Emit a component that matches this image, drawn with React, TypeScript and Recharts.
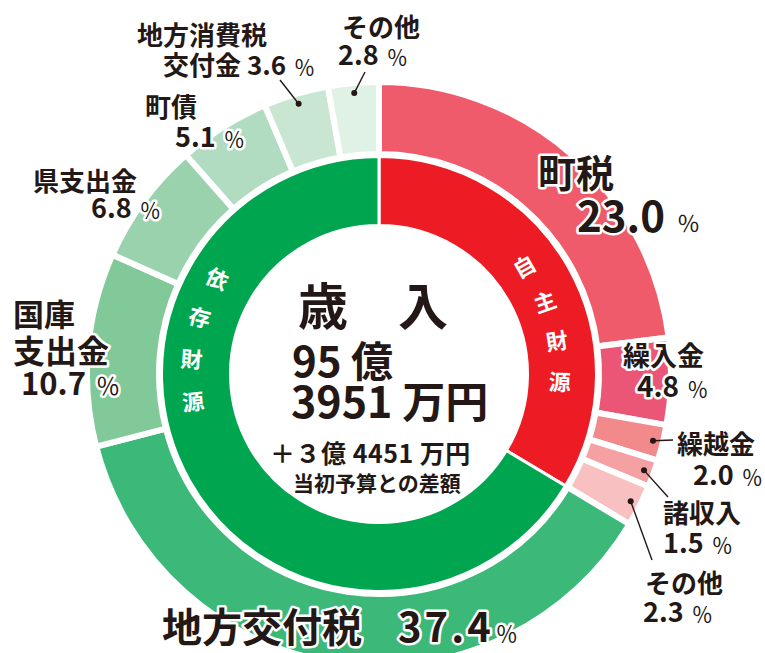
import { PieChart, Pie, Cell } from 'recharts';

// 歳入の内訳（％）
const OUTER_NAMES = [
  '町税',
  '繰入金',
  '繰越金',
  '諸収入',
  'その他',
  '地方交付税',
  '国庫支出金',
  '県支出金',
  '町債',
  '地方消費税交付金',
  'その他',
];
const OUTER_VALUES = [23.0, 4.8, 2.0, 1.5, 2.3, 37.4, 10.7, 6.8, 5.1, 3.6, 2.8];

const INNER_NAMES = ['自主財源', '依存財源'];
const INNER_VALUES = [33.6, 66.4];

const CENTER_TITLE = '歳　入';
const CENTER_TOTAL = ['95 億', '3951 万円'];
const CENTER_DIFF = ['＋３億 4451 万円', '当初予算との差額'];

const OUTER_COLORS = [
  '#EF5B6A',
  '#EC5676',
  '#F28A8C',
  '#F5A0A2',
  '#F9C0C1',
  '#3CB878',
  '#82C99A',
  '#9BD2AE',
  '#B2DCC1',
  '#C9E6D3',
  '#E0F1E6',
];
const INNER_COLORS = ['#ED1C24', '#00A54F'];

const W = 765;
const H = 653;
const CX = 379;
const CY = 374;
const FONT = '"Noto Sans CJK JP", "Noto Sans", sans-serif';
const INK = '#231815';

const outerData = OUTER_NAMES.map((name, i) => ({ name, value: OUTER_VALUES[i] }));
const innerData = INNER_NAMES.map((name, i) => ({ name, value: INNER_VALUES[i] }));

type Row = {
  x: number;
  y: number;
  text: string;
  size: number;
  pct?: boolean;
  pctSize?: number;
  pctDx?: number;
  spacing?: number;
};
type LabelLayout = { rows: Row[]; leader?: [number, number] };

// label placement, one entry per outer slice
const LABEL_LAYOUT: LabelLayout[] = [
  {
    rows: [
      { x: 538, y: 187, text: '町税', size: 38 },
      { x: 577, y: 232, text: '23.0', size: 42, pct: true, pctDx: 12, pctSize: 23 },
    ],
  },
  {
    rows: [
      { x: 623, y: 366, text: '繰入金', size: 27 },
      { x: 637, y: 397, text: '4.8', size: 28, pct: true },
    ],
  },
  {
    rows: [
      { x: 677, y: 454, text: '繰越金', size: 26 },
      { x: 693, y: 485, text: '2.0', size: 27, pct: true },
    ],
    leader: [673, 440],
  },
  {
    rows: [
      { x: 663, y: 523, text: '諸収入', size: 26 },
      { x: 663, y: 553, text: '1.5', size: 27, pct: true },
    ],
    leader: [668, 497],
  },
  {
    rows: [
      { x: 645, y: 593, text: 'その他', size: 26 },
      { x: 643, y: 622, text: '2.3', size: 27, pct: true },
    ],
    leader: [652, 560],
  },
  {
    rows: [
      { x: 162, y: 642, text: '地方交付税', size: 40 },
      { x: 398, y: 642, text: '37.4', size: 40, spacing: 3, pct: true, pctDx: 2, pctSize: 22 },
    ],
  },
  {
    rows: [
      { x: 13, y: 326, text: '国庫', size: 31 },
      { x: 13, y: 363, text: '支出金', size: 32 },
      { x: 21, y: 395, text: '10.7', size: 31, pct: true, pctDx: 10, pctSize: 24 },
    ],
  },
  {
    rows: [
      { x: 33, y: 191, text: '県支出金', size: 26 },
      { x: 91, y: 218, text: '6.8', size: 27, pct: true },
    ],
  },
  {
    rows: [
      { x: 145, y: 117, text: '町債', size: 26 },
      { x: 175, y: 147, text: '5.1', size: 27, pct: true },
    ],
  },
  {
    rows: [
      { x: 137, y: 45, text: '地方消費税', size: 26 },
      { x: 163, y: 75, text: '交付金 3.6', size: 26, pct: true },
    ],
    leader: [280, 80],
  },
  {
    rows: [
      { x: 342, y: 37, text: 'その他', size: 26 },
      { x: 338, y: 65, text: '2.8', size: 27, pct: true },
    ],
    leader: [365, 72],
  },
];

// where the ring captions sit (compass degrees, clockwise from top)
const INNER_ARC = [
  { start: 53, step: 13, r: 181, base: 90 },
  { start: 301, step: -13, r: 188, base: 270 },
];

function renderOuterLabel(props: any) {
  const { index, midAngle } = props;
  const layout = LABEL_LAYOUT[index];
  if (!layout) return null;
  const rad = (midAngle * Math.PI) / 180;
  const dx = CX + 282 * Math.cos(rad);
  const dy = CY - 282 * Math.sin(rad);
  return (
    <g key={`outer-label-${index}`}>
      {layout.leader && (
        <>
          <line x1={dx} y1={dy} x2={layout.leader[0]} y2={layout.leader[1]} stroke={INK} strokeWidth={1.4} />
          <circle cx={dx} cy={dy} r={3} fill={INK} />
        </>
      )}
      {layout.rows.map((r, i) => (
        <text
          key={i}
          x={r.x}
          y={r.y}
          fontFamily={FONT}
          fill={INK}
          stroke="#fff"
          strokeWidth={5}
          strokeLinejoin="round"
          paintOrder="stroke"
        >
          <tspan fontSize={r.size} fontWeight={700} letterSpacing={r.spacing ?? 0}>
            {r.text}
          </tspan>
          {r.pct && (
            <tspan dx={r.pctDx ?? 8} fontSize={r.pctSize ?? 21} fontWeight={400}>
              ％
            </tspan>
          )}
        </text>
      ))}
    </g>
  );
}

function renderInnerLabel(props: any) {
  const { index } = props;
  const arc = INNER_ARC[index];
  const chars = Array.from(INNER_NAMES[index]);
  return (
    <g key={`inner-label-${index}`}>
      {chars.map((ch, i) => {
        const a = arc.start + arc.step * i;
        const rad = (a * Math.PI) / 180;
        const x = CX + arc.r * Math.sin(rad);
        const y = CY - arc.r * Math.cos(rad);
        const rot = (a - arc.base) * 0.8;
        return (
          <text
            key={i}
            x={x}
            y={y}
            textAnchor="middle"
            dominantBaseline="central"
            transform={`rotate(${rot} ${x} ${y})`}
            fontSize={22}
            fontWeight={700}
            fill="#fff"
            fontFamily={FONT}
          >
            {ch}
          </text>
        );
      })}
    </g>
  );
}

export default function App() {
  return (
    <div style={{ position: 'absolute', left: 0, top: 0, width: W, height: H, background: '#fff' }}>
      <PieChart width={W} height={H} margin={{ top: 0, right: 0, bottom: 0, left: 0 }}>
        <Pie
          data={innerData}
          dataKey="value"
          cx={CX}
          cy={CY}
          startAngle={90}
          endAngle={-270}
          innerRadius={148.5}
          outerRadius={217.5}
          stroke="#fff"
          strokeWidth={3}
          label={renderInnerLabel}
          labelLine={false}
          isAnimationActive={false}
        >
          {innerData.map((d, i) => (
            <Cell key={d.name} fill={INNER_COLORS[i]} />
          ))}
        </Pie>
        <Pie
          data={outerData}
          dataKey="value"
          cx={CX}
          cy={CY}
          startAngle={90}
          endAngle={-270}
          innerRadius={220}
          outerRadius={292}
          stroke="#fff"
          strokeWidth={6}
          label={renderOuterLabel}
          labelLine={false}
          isAnimationActive={false}
        >
          {outerData.map((d, i) => (
            <Cell key={`${d.name}-${i}`} fill={OUTER_COLORS[i]} />
          ))}
        </Pie>
      </PieChart>
      <svg
        width={W}
        height={H}
        style={{ position: 'absolute', left: 0, top: 0, pointerEvents: 'none' }}
      >
        <g fontFamily={FONT} fill={INK}>
          <text x={298} y={325} fontSize={50} fontWeight={700}>
            {CENTER_TITLE}
          </text>
          <text x={292} y={377} fontSize={42} fontWeight={700}>
            {CENTER_TOTAL[0]}
          </text>
          <text x={291} y={418} fontSize={43} fontWeight={700}>
            {CENTER_TOTAL[1]}
          </text>
          <text x={270} y={463} fontSize={25} fontWeight={600} letterSpacing={0.5}>
            {CENTER_DIFF[0]}
          </text>
          <text x={293} y={491} fontSize={21} fontWeight={600}>
            {CENTER_DIFF[1]}
          </text>
        </g>
      </svg>
    </div>
  );
}
